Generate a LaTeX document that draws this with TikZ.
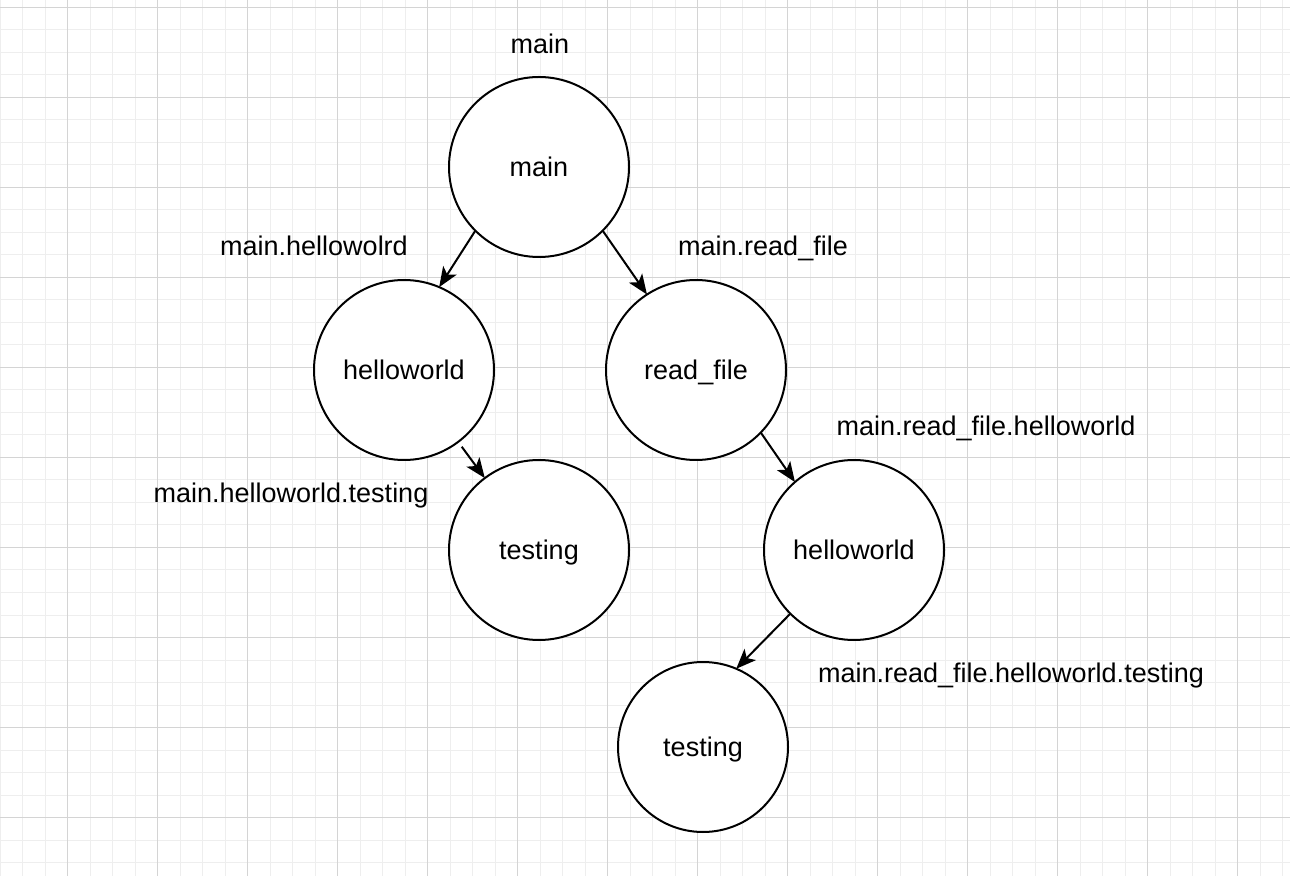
\documentclass[tikz,border=0pt]{standalone}
\usepackage{fontspec}
\setmainfont{Liberation Sans}
\usetikzlibrary{arrows.meta}

\definecolor{minorline}{RGB}{238,238,238}
\definecolor{majorline}{RGB}{212,212,212}

\tikzset{
  callnode/.style={draw, circle, fill=white, line width=1pt, minimum size=90pt, inner sep=0pt, outer sep=0pt, text height=1.17em, text depth=0.25em},
  pathlabel/.style={inner sep=0pt, text height=1.17em, text depth=0.25em},
  callarrow/.style={line width=1pt, -{Stealth[length=10pt, width=8pt, inset=2.5pt]}}
}

\begin{document}
\begin{tikzpicture}[x=0.5pt, y=-0.5pt, font=\fontsize{13.5}{16}\selectfont]
        \useasboundingbox (0,0) rectangle (1290,876);

        % Background grid
        \foreach \i in {0,...,57} \draw[minorline, line width=0.5pt] (\i*22.5,0) -- (\i*22.5,876);
        \foreach \j in {0,...,38} \draw[minorline, line width=0.5pt] (0,7.5+\j*22.5) -- (1290,7.5+\j*22.5);
        \foreach \i in {0,...,13} \draw[majorline, line width=0.5pt] (67.5+\i*90,0) -- (67.5+\i*90,876);
        \foreach \j in {0,...,9} \draw[majorline, line width=0.5pt] (0,7.5+\j*90) -- (1290,7.5+\j*90);

        % Call nodes
        \node[callnode] (Main) at (539,167) {main};
        \node[callnode] (Hello) at (404,370) {helloworld};
        \node[callnode] (Read) at (696,370) {read\_file};
        \node[callnode] (TestA) at (539,550) {testing};
        \node[callnode] (HelloB) at (854,550) {helloworld};
        \node[callnode, minimum size=85pt] (TestB) at (703,747) {testing};

        % Call edges
        \draw[callarrow] (Main.225) -- (Hello.67);
        \draw[callarrow] (Main.315) -- (Read.123);
        \draw[callarrow, shorten <=3pt] (Hello.307) -- (TestA.127);
        \draw[callarrow] (Read.316) -- (HelloB.131);
        \draw[callarrow] (HelloB.225) -- (TestB.67);

        % Path labels
        \node[pathlabel] (LMain) at (540,44) {main};
        \node[pathlabel] (LHello) at (314,246) {main.hellowolrd};
        \node[pathlabel] (LRead) at (763,246) {main.read\_file};
        \node[pathlabel] (LHelloB) at (986,426) {main.read\_file.helloworld};
        \node[pathlabel] (LTestA) at (291,493) {main.helloworld.testing};
        \node[pathlabel] (LTestB) at (1011,673) {main.read\_file.helloworld.testing};
    \end{tikzpicture}
\end{document}
